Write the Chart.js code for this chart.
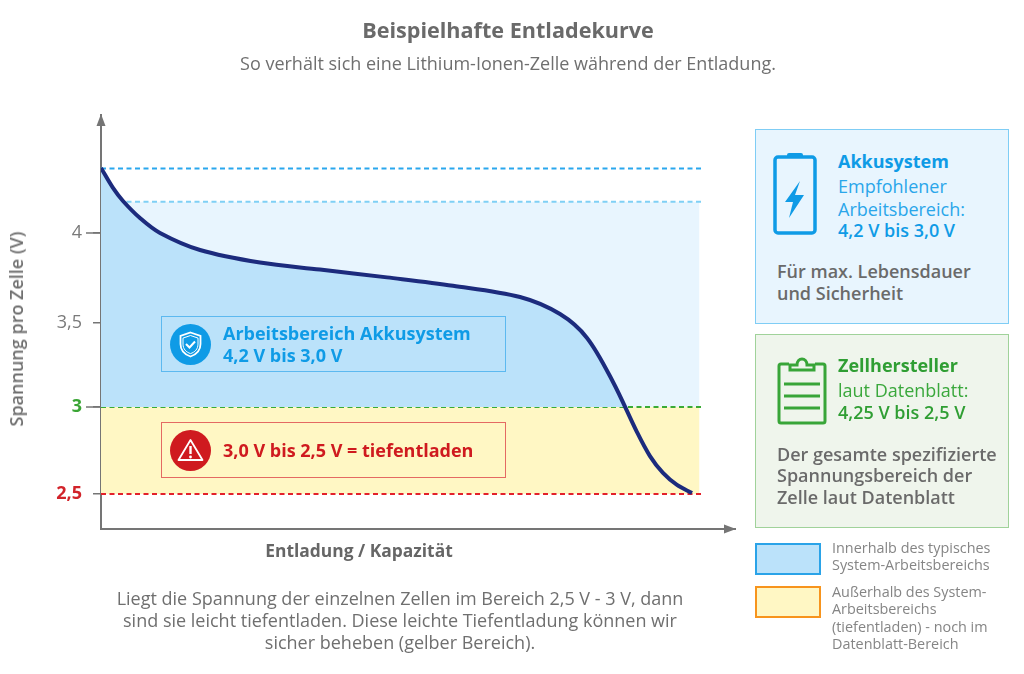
<!DOCTYPE html>
<html lang="de"><head><meta charset="utf-8">
<script src="https://cdn.jsdelivr.net/npm/chart.js@4"></script>
<style>
html,body{margin:0;padding:0;background:#fff}
#wrap{position:relative;width:1024px;height:674px;overflow:hidden;font-family:"Open Sans",sans-serif}
canvas{position:absolute;left:0;top:0}
.t{position:absolute;white-space:nowrap;line-height:1}
.c{transform:translateX(-50%)}
.box{position:absolute;box-sizing:border-box}
svg{position:absolute}
</style></head><body>
<div id="wrap">
<canvas id="c" width="1024" height="674"></canvas>

<div class="t c" style="left:508px;top:19px;font-size:21.6px;font-weight:700;color:#6a6a6a">Beispielhafte Entladekurve</div>
<div class="t c" style="left:508px;top:54px;font-size:18px;color:#6f6f6f">So verhält sich eine Lithium-Ionen-Zelle während der Entladung.</div>
<div class="t c" style="left:359px;top:542px;font-size:17.4px;font-weight:700;color:#666">Entladung / Kapazität</div>
<div class="t" style="left:16px;top:329px;font-size:18px;font-weight:600;color:#707070;transform:translate(-50%,-50%) rotate(-90deg)">Spannung pro Zelle (V)</div>

<div class="box" style="left:161px;top:316px;width:345px;height:56px;border:1px solid #5cb9f0"></div>
<svg style="left:170px;top:324px" width="41" height="41" viewBox="0 0 41 41"><circle cx="20.5" cy="20.5" r="20.5" fill="#0f9be6"/><path d="M20.5 8.5l10 3.5v8c0 6.5-4.2 10.5-10 12.5-5.800-2-10-6-10-12.500v-8z" fill="none" stroke="#fff" stroke-width="1.800"/><path d="M20.500 11.500l7.500 2.600v6c0 5-3.100 8-7.500 9.500-4.400-1.500-7.500-4.500-7.500-9.500v-6z" fill="none" stroke="#fff" stroke-width="1"/><path d="M16 20l3.500 3.500 5.500-6" fill="none" stroke="#fff" stroke-width="2"/></svg>
<div class="t" style="left:223px;top:324px;font-size:18px;font-weight:700;color:#0f9be6">Arbeitsbereich Akkusystem</div>
<div class="t" style="left:223px;top:346px;font-size:18px;font-weight:700;color:#0f9be6">4,2 V bis 3,0 V</div>

<div class="box" style="left:161px;top:422px;width:345px;height:56px;border:1px solid #e46a63"></div>
<svg style="left:170px;top:430px" width="41" height="41" viewBox="0 0 41 41"><circle cx="20.500" cy="20.500" r="20.500" fill="#cf1a1f"/><path d="M20.500 10l12 20h-24z" fill="none" stroke="#fff" stroke-width="1.800" stroke-linejoin="round"/><path d="M20.500 16v8" stroke="#fff" stroke-width="2.400"/><circle cx="20.500" cy="27" r="1.400" fill="#fff"/></svg>
<div class="t" style="left:223px;top:441px;font-size:18px;font-weight:700;color:#cf1a1f">3,0 V bis 2,5 V = tiefentladen</div>

<div class="box" style="left:755px;top:129px;width:254px;height:195px;background:#e8f5fe;border:1.500px solid #7fcdf5"></div>
<svg style="left:772px;top:151px" width="46" height="86" viewBox="0 0 46 86"><rect x="3" y="6" width="40" height="76" rx="3" fill="none" stroke="#0f9be6" stroke-width="3.500"/><rect x="15" y="2" width="16" height="5" rx="2" fill="#0f9be6"/><path d="M28 30l-15 21h8l-4 16 15-23h-9z" fill="#0f9be6"/></svg>
<div class="t" style="left:838px;top:152px;font-size:18px;font-weight:700;color:#0f9be6">Akkusystem</div>
<div class="t" style="left:838px;top:177px;font-size:18px;color:#2aa6ea">Empfohlener</div>
<div class="t" style="left:838px;top:200px;font-size:18px;color:#2aa6ea">Arbeitsbereich:</div>
<div class="t" style="left:838px;top:221px;font-size:18px;font-weight:600;color:#0f9be6">4,2 V bis 3,0 V</div>
<div class="t" style="left:777px;top:262px;font-size:18px;font-weight:600;color:#6a6a6a">Für max. Lebensdauer</div>
<div class="t" style="left:777px;top:284px;font-size:18px;font-weight:600;color:#6a6a6a">und Sicherheit</div>

<div class="box" style="left:755px;top:334px;width:254px;height:194px;background:#eff5ec;border:1.500px solid #a0d29a"></div>
<svg style="left:776px;top:355px" width="52" height="70" viewBox="0 0 52 70"><path d="M13 9H5a2 2 0 0 0-2 2v55a2 2 0 0 0 2 2h42a2 2 0 0 0 2-2V11a2 2 0 0 0-2-2h-8" fill="none" stroke="#38a538" stroke-width="3"/><path d="M14 15V10h7c0-8 10-8 10 0h7v5z" fill="none" stroke="#38a538" stroke-width="3"/><path d="M8 29h36M8 41h36M8 53h36" stroke="#38a538" stroke-width="3.200"/></svg>
<div class="t" style="left:838px;top:356px;font-size:18px;font-weight:700;color:#2f9e33">Zellhersteller</div>
<div class="t" style="left:838px;top:381px;font-size:18px;color:#3aa83c">laut Datenblatt:</div>
<div class="t" style="left:838px;top:403px;font-size:18px;font-weight:600;color:#2f9e33">4,25 V bis 2,5 V</div>
<div class="t" style="left:777px;top:445px;font-size:18px;font-weight:600;color:#6a6a6a">Der gesamte spezifizierte</div>
<div class="t" style="left:777px;top:466px;font-size:18px;font-weight:600;color:#6a6a6a">Spannungsbereich der</div>
<div class="t" style="left:777px;top:488px;font-size:18px;font-weight:600;color:#6a6a6a">Zelle laut Datenblatt</div>

<div class="box" style="left:755px;top:543px;width:66px;height:32px;background:#bbe2fa;border:2px solid #2aa3e8"></div>
<div class="box" style="left:755px;top:586px;width:66px;height:32px;background:#fff7c4;border:2px solid #f7941d"></div>
<div class="t" style="left:832px;top:541px;font-size:14.4px;color:#858585">Innerhalb des typisches</div>
<div class="t" style="left:832px;top:558px;font-size:14.4px;color:#858585">System-Arbeitsbereichs</div>
<div class="t" style="left:832px;top:585px;font-size:14.4px;color:#858585">Außerhalb des System-</div>
<div class="t" style="left:832px;top:602px;font-size:14.4px;color:#858585">Arbeitsbereichs</div>
<div class="t" style="left:832px;top:620px;font-size:14.4px;color:#858585">(tiefentladen) - noch im</div>
<div class="t" style="left:832px;top:637px;font-size:14.4px;color:#858585">Datenblatt-Bereich</div>

<div class="t c" style="left:400px;top:589px;font-size:18px;color:#6f6f6f">Liegt die Spannung der einzelnen Zellen im Bereich 2,5 V - 3 V, dann</div>
<div class="t c" style="left:400px;top:611px;font-size:18px;color:#6f6f6f">sind sie leicht tiefentladen. Diese leichte Tiefentladung können wir</div>
<div class="t c" style="left:400px;top:633px;font-size:18px;color:#6f6f6f">sicher beheben (gelber Bereich).</div>
</div>
<script>
const capacity = [0,1.89,3.47,6.15,9.31,15.62,25.08,34.54,45.11,55.52,66.09,72.4,76.66,80.76,84.54,86.59,88.64,90.85,93.22];
const voltage = [4.374,4.259,4.184,4.086,4.0,3.902,3.83,3.79,3.745,3.697,3.632,3.534,3.397,3.144,2.856,2.718,2.621,2.552,2.506];
const tickValues = [2.5,3,3.483,4];
const tickLabels = ["2,5","3","3,5","4"];
const longTickValues = [3,4];
const levelCharge = 4.37, levelSystemTop = 4.18, levelSystemBottom = 3, levelCutoff = 2.5;
const bandEnd = 94.4, dashEnd = 95;

const curve = capacity.map((x,i)=>({x,y:voltage[i]}));
const flat = (v,end)=>[{x:0,y:v},{x:end,y:v}];
const dash = (label,v,color)=>({label,data:flat(v,dashEnd),borderColor:color,borderWidth:2,borderDash:[5,3.5],pointRadius:0,fill:false});

const axisArrows = {
  id:'axisArrows',
  afterDraw(chart){
    const {ctx,chartArea:a,scales:{y}} = chart;
    ctx.save();
    ctx.fillStyle = ctx.strokeStyle = '#757575';
    ctx.lineWidth = 1.5;
    longTickValues.forEach(v=>{const p=y.getPixelForValue(v);ctx.beginPath();ctx.moveTo(a.left-15,p);ctx.lineTo(a.left,p);ctx.stroke();});
    ctx.beginPath();ctx.moveTo(a.left,a.top-1);ctx.lineTo(a.left-4.5,a.top+11);ctx.lineTo(a.left+4.5,a.top+11);ctx.fill();
    ctx.beginPath();ctx.moveTo(a.right+1,a.bottom);ctx.lineTo(a.right-11,a.bottom-4.5);ctx.lineTo(a.right-11,a.bottom+4.5);ctx.fill();
    ctx.restore();
  }
};
const isMarked = c=>{const v=c.tick&&c.tick.value;return v===3||v===2.5;};

new Chart(document.getElementById('c'),{
  type:'line',
  data:{datasets:[
    {label:'Entladekurve',data:curve,borderColor:'#1c2b7d',borderWidth:4,pointRadius:0,tension:0.33,
     fill:{target:{value:levelSystemBottom},above:'#bbe2fa',below:'rgba(0,0,0,0)'}},
    dash('Ladeschluss',levelCharge,'#2aa7ee'),
    dash('System oben',levelSystemTop,'#7fd0f5'),
    dash('System unten',levelSystemBottom,'#3aaa35'),
    dash('Entladeschluss',levelCutoff,'#e3202a'),
    {label:'Systembereich',data:flat(levelSystemTop,bandEnd),borderWidth:0,pointRadius:0,fill:{target:{value:levelSystemBottom},above:'#e8f5fe',below:'#e8f5fe'}},
    {label:'Tiefentladen',data:flat(levelSystemBottom,bandEnd),borderWidth:0,pointRadius:0,fill:{target:{value:levelCutoff},above:'#fff7c4',below:'#fff7c4'}}
  ]},
  options:{
    responsive:false,animation:false,
    layout:{padding:{left:0,top:115,right:289,bottom:0}},
    plugins:{legend:{display:false},tooltip:{enabled:false}},
    scales:{
      x:{type:'linear',min:0,max:100,
        afterFit:s=>{s.height=145;},
        grid:{display:false},
        border:{color:'#757575',width:2},
        ticks:{display:false}},
      y:{type:'linear',min:2.299,max:4.678,
        afterFit:s=>{s.width=101;},
        afterBuildTicks:s=>{s.ticks=tickValues.map(value=>({value}));},
        grid:{drawOnChartArea:false,color:'#757575',lineWidth:1.5,tickLength:8},
        border:{color:'#757575',width:2},
        ticks:{autoSkip:false,padding:11,
          callback:v=>tickLabels[tickValues.indexOf(v)],
          color:c=>{const v=c.tick&&c.tick.value;return v===3?'#3aa535':v===2.5?'#d2232a':'#7a7a7a';},
          font:c=>({family:'"Open Sans"',size:18,weight:isMarked(c)?'700':'400'})}}
    }
  },
  plugins:[axisArrows]
});
</script>
</body></html>
